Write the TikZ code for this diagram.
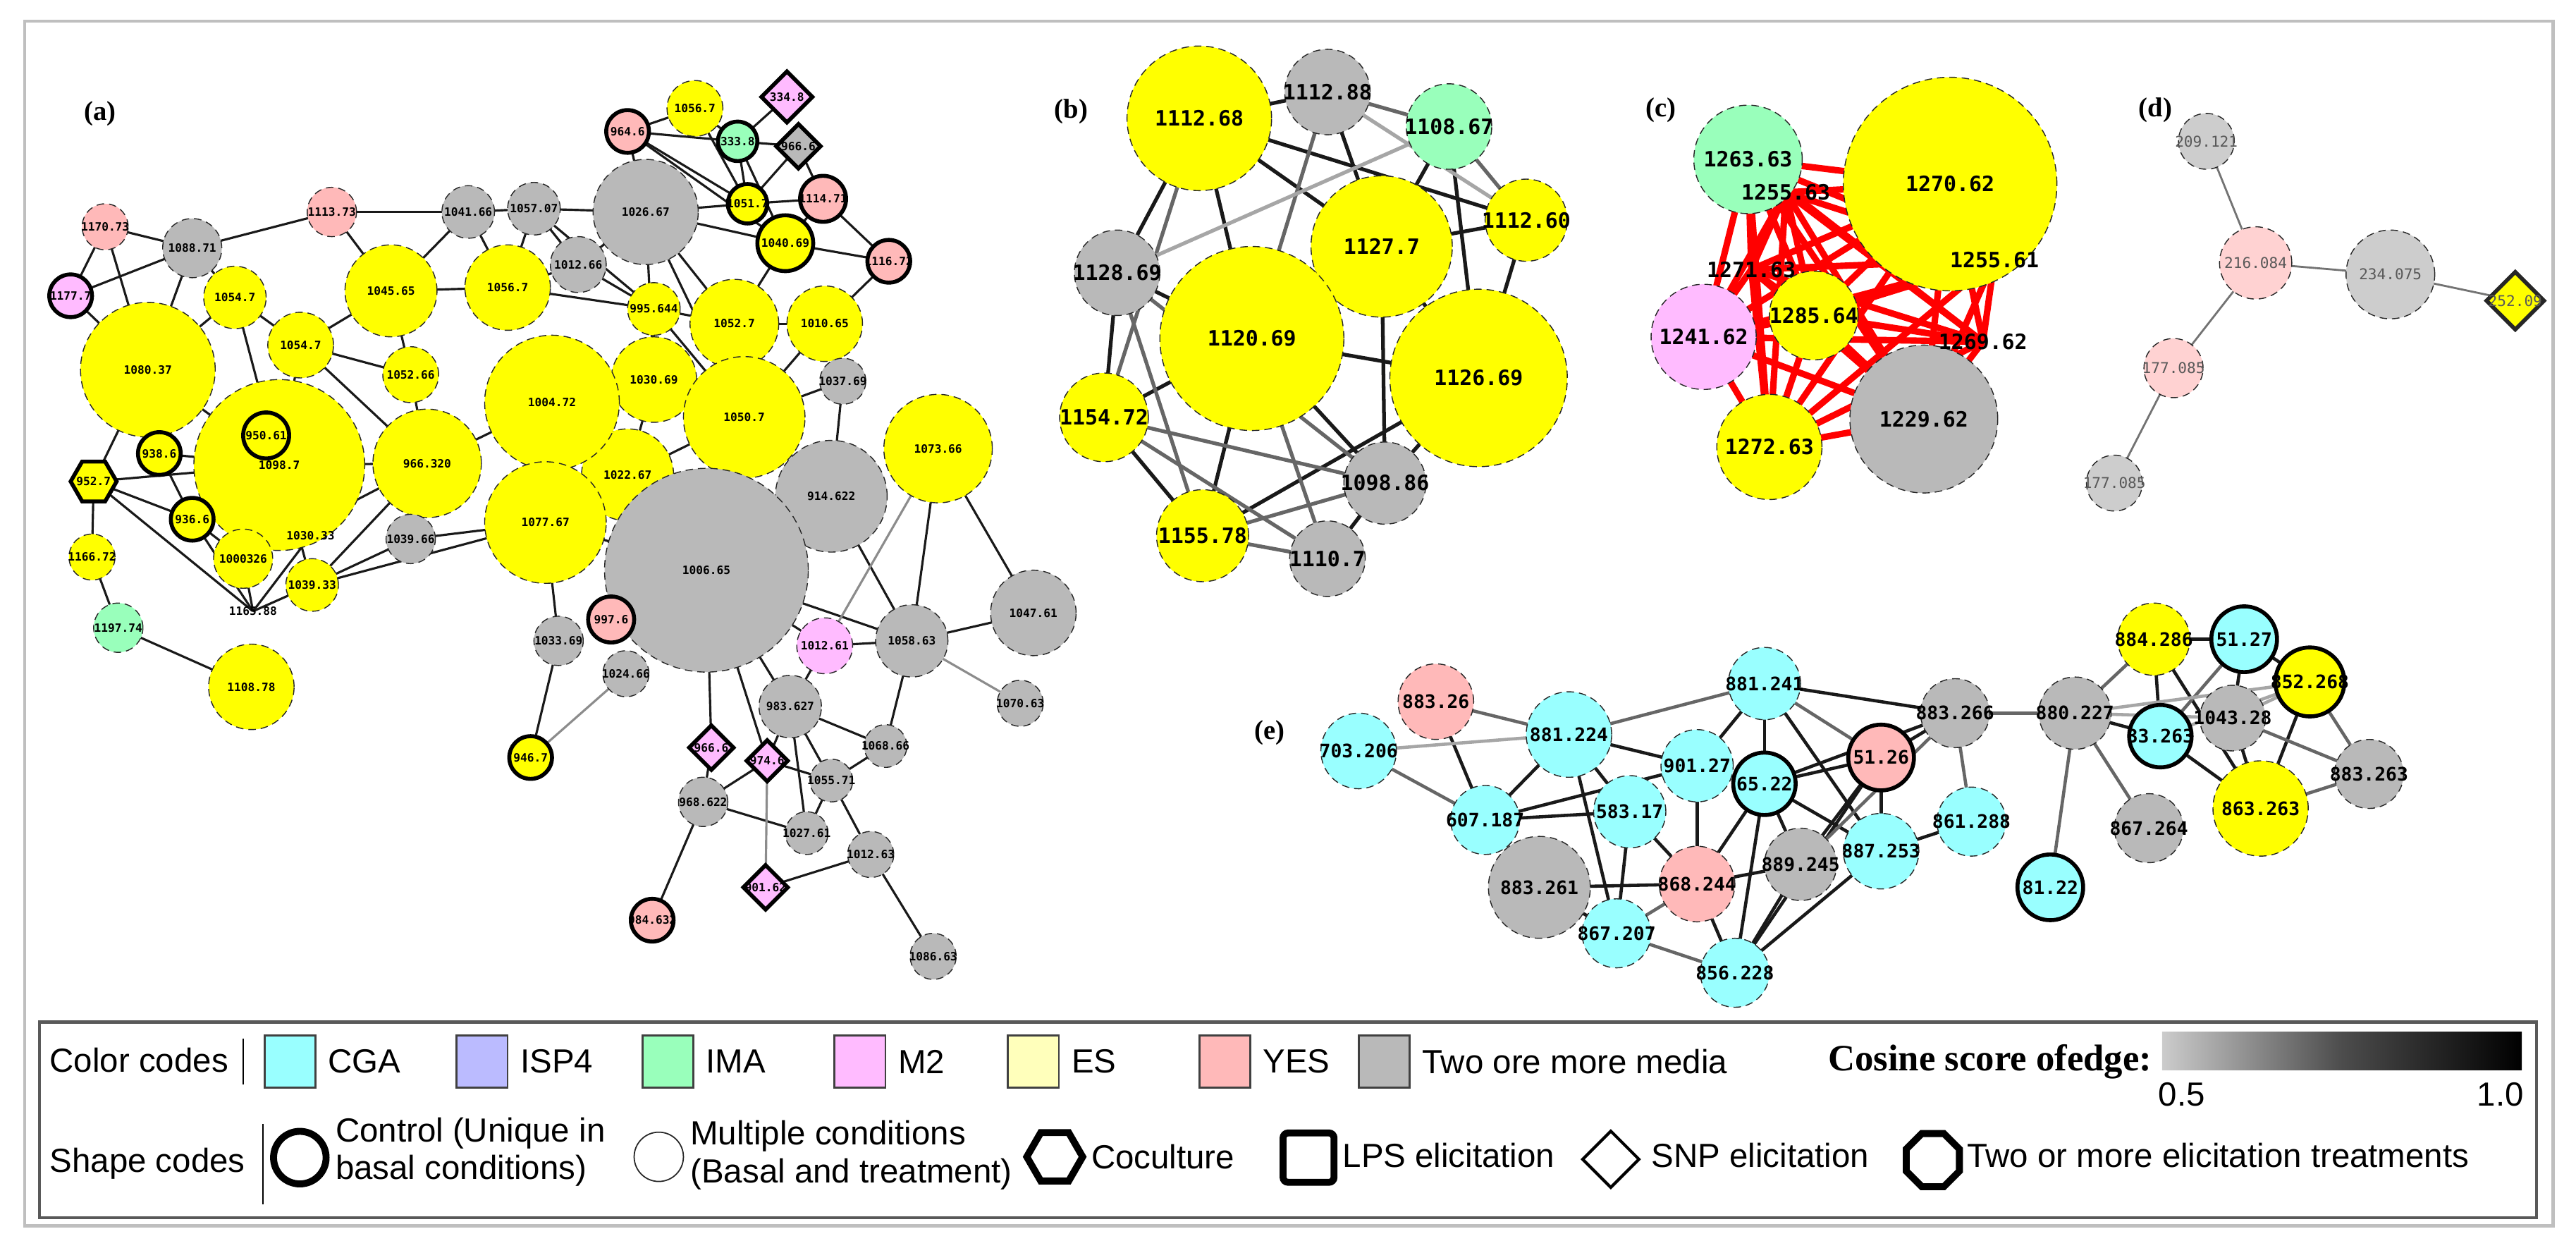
\documentclass[tikz,border=0pt]{standalone}
\usepackage{fontspec}
\setmainfont{Liberation Sans}
\newfontfamily\monofnt{DejaVu Sans Mono}
\newfontfamily\serfnt{Liberation Serif}
\usetikzlibrary{positioning,shapes.geometric,backgrounds}

\definecolor{yel}{HTML}{FFFF00}
\definecolor{gry}{HTML}{B9B9B9}
\definecolor{lgry}{HTML}{CDCDCD}
\definecolor{yes}{HTML}{FFB9B9}
\definecolor{lyes}{HTML}{FFD2D2}
\definecolor{mtwo}{HTML}{FFBBFF}
\definecolor{ima}{HTML}{99FFBB}
\definecolor{cga}{HTML}{99FFFF}
\definecolor{isp}{HTML}{BBBBFF}
\definecolor{esc}{HTML}{FFFFBB}

\tikzset{
  nd/.style={circle, draw=black!85, densely dashed, line width=0.4pt, inner sep=0pt, minimum size=#1*0.466mm},
  ctl/.style={circle, draw=black, solid, line width=1.6pt, inner sep=0pt, minimum size=#1*0.466mm},
  dia/.style={diamond, draw=black, solid, line width=1.6pt, inner sep=0pt, minimum size=#1*0.466mm},
  hexa/.style={regular polygon, regular polygon sides=6, draw=black, line width=1.6pt, inner sep=0pt, minimum size=#1*0.466mm},
  swatch/.style={rectangle, draw=black!75, line width=0.8pt, inner sep=0pt, minimum width=31*0.233mm, minimum height=32*0.233mm},
  lgd/.style={font=\fontsize{13.5}{15.2}\selectfont, inner sep=0pt, anchor=west, align=left},
  plab/.style={font=\serfnt\bfseries\fontsize{11}{11}\selectfont, inner sep=0pt},
  eda/.style={line width=0.9pt, black!90},
  edk/.style={line width=1.5pt, black!90},
  edm/.style={line width=1.5pt, black!60},
  edl/.style={line width=1.5pt, black!35},
  edr/.style={line width=2.6pt, red},
}

\begin{document}
\begin{tikzpicture}[x=0.233mm, y=-0.233mm]
\useasboundingbox (0,0) rectangle (1568,755);

% frames
\draw[black!25, line width=1.2pt] (15,13) rectangle (1554,746);
\draw[black!65, line width=1.2pt] (24,622) rectangle (1544,741);

% panel labels
\node[plab] (la) at (61,69) {(a)};
\node[plab] (lb) at (652,68) {(b)};
\node[plab] (lc) at (1011,67) {(c)};
\node[plab] (ld) at (1312,67) {(d)};
\node[plab] (le) at (773,446) {(e)};

%%%%% panel (a)
\begin{scope}[font=\monofnt\bfseries\fontsize{4.6}{5}\selectfont]
\foreach \n/\x/\y/\r/\c/\t in {
  a1/64/138/14/yes/1170.73, a2/117/151/18/gry/1088.71, a3/202/129/15/yes/1113.73,
  a4/285/129/16/gry/1041.66, a5/325/127/16/gry/1057.07, a6/393/129/32/gry/1026.67,
  a8/143/181/19/yel/1054.7, a9/90/225/41/yel/1080.37, a10/183/210/20/yel/1054.7,
  a11/238/177/28/yel/1045.65, a12/309/175/26/yel/1056.7, a13/352/161/17/gry/1012.66,
  a14/398/188/16/yel/995.644, a15/447/197/27/yel/1052.7, a16/502/197/23/yel/1010.65,
  a17/250/228/17/yel/1052.66, a19/398/231/26/yel/1030.69, a20/453/254/37/yel/1050.7,
  a27/382/289/28/yel/1022.67, a18/336/245/41/yel/1004.72, a28/332/318/37/yel/1077.67,
  a30/506/302/34/gry/914.622, a29/430/347/62/gry/1006.65, a21/170/283/52/yel/1098.7,
  a26/260/282/33/yel/966.320, a31/250/328/15/gry/1039.66, a32/148/340/18/yel/1000326,
  a33/190/356/16/yel/1039.33, a34/56/339/14/yel/1166.72, a36/72/382/15/ima/1197.74,
  a37/153/418/26/yel/1108.78, a38/340/390/15/gry/1033.69, a40/381/410/14/gry/1024.66,
  a44/481/430/19/gry/983.627, a45/506/475/13/gry/1055.71, a46/428/488/15/gry/968.622,
  a47/491/507/13/gry/1027.61, a50/502/393/17/mtwo/1012.61, a51/555/390/22/gry/1058.63,
  a52/629/373/26/gry/1047.61, a53/621/428/14/gry/1070.63, a54/539/454/13/gry/1068.66,
  a55/530/520/14/gry/1012.63, a56/568/582/14/gry/1086.63, a57/571/273/33/yel/1073.66,
  a58/513/232/14/gry/1037.69, a59/423/66/17/yel/1056.7}
  \node[nd=\r, fill=\c] (\n) at (\x,\y) {\makebox[0pt]{\t}};
\foreach \n/\x/\y/\r/\c/\t in {
  a7/43/180/13/mtwo/1177.7, a22/162/265/14/yel/950.61, a23/97/276/13/yel/938.6,
  a25/117/316/13/yel/936.6, a39/372/377/14/yes/997.6, a41/323/461/13/yel/946.7,
  a49/397/560/13/yes/984.632, a60/382/80/13/yes/964.6, a61/449/86/12/ima/333.8,
  a64/455/124/12/yel/1051.7, a65/501/121/14/yes/1114.71, a66/478/148/17/yel/1040.69,
  a67/541/159/13/yes/1116.72}
  \node[ctl=\r, fill=\c] (\n) at (\x,\y) {\makebox[0pt]{\t}};
\foreach \n/\x/\y/\r/\c/\t in {
  a42/433/455/14/mtwo/966.6, a43/467/463/13/mtwo/974.6, a48/466/540/14/mtwo/901.62,
  a62/479/59/16/mtwo/334.8, a63/486/89/14/gry/966.6}
  \node[dia=\r, fill=\c] (\n) at (\x,\y) {\makebox[0pt]{\t}};
\node[hexa=14, fill=yel] (a24) at (57,293) {\makebox[0pt]{952.7}};
\node[inner sep=0pt] (a35) at (154,372) {1165.88};
\node[inner sep=0pt] (a68) at (189,326) {1030.33};
\end{scope}

\begin{scope}[on background layer]
\foreach \p/\q in {a1/a2, a1/a7, a1/a9, a2/a3, a2/a7, a2/a9, a2/a8, a3/a4, a3/a11,
  a4/a5, a4/a11, a4/a12, a5/a6, a5/a12, a5/a13, a5/a14, a6/a60, a6/a64, a6/a66,
  a6/a15, a6/a20, a6/a13, a6/a19, a7/a9, a8/a10, a8/a9, a8/a21, a10/a11, a10/a26,
  a10/a17, a10/a21, a11/a12, a11/a17, a12/a13, a12/a14, a13/a14, a14/a19, a14/a15,
  a14/a20, a15/a16, a15/a66, a15/a20, a16/a67, a16/a58, a16/a20, a19/a18, a19/a20,
  a19/a27, a20/a29, a20/a27, a20/a58, a18/a26, a18/a27, a9/a23, a9/a24, a9/a21,
  a23/a21, a23/a25, a24/a25, a24/a34, a24/a35, a24/a21, a25/a35, a25/a32, a21/a32,
  a21/a33, a21/a26, a26/a33, a26/a31, a26/a17, a26/a32, a31/a28, a31/a33, a33/a35,
  a32/a35, a33/a28, a34/a36, a36/a37, a28/a29, a28/a38, a27/a29, a29/a39, a29/a50,
  a29/a51, a29/a44, a29/a42, a29/a43, a30/a51, a30/a58, a57/a51, a57/a52, a51/a52,
  a51/a50, a51/a54, a50/a44, a44/a54, a44/a45, a44/a43, a44/a47, a42/a46, a43/a46,
  a43/a45, a46/a49, a46/a47, a47/a45, a45/a54, a45/a55, a55/a48, a55/a56, a38/a41,
  a59/a60, a59/a61, a60/a61, a60/a64, a60/a66, a61/a62, a61/a63, a61/a64, a61/a66,
  a63/a64, a63/a65, a64/a65, a65/a66, a65/a67, a66/a67, a59/a64, a68/a35}
  \draw[eda] (\p.center) -- (\q.center);
\foreach \p/\q in {a57/a50, a51/a53, a43/a48, a40/a41}
  \draw[eda, black!45] (\p.center) -- (\q.center);
\end{scope}

%%%%% panel (b)
\begin{scope}[font=\monofnt\bfseries\fontsize{8.5}{9}\selectfont]
\foreach \n/\x/\y/\r/\c/\t in {
  b1/730/72/44/yel/1112.68, b2/808/56/26/gry/1112.88, b3/882/77/26/ima/1108.67,
  b4/929/134/25/yel/1112.60, b5/680/166/26/gry/1128.69, b6/841/150/43/yel/1127.7,
  b7/762/206/56/yel/1120.69, b8/900/230/54/yel/1126.69, b9/672/254/27/yel/1154.72,
  b10/843/294/25/gry/1098.86, b11/732/326/28/yel/1155.78, b12/808/340/23/gry/1110.7}
  \node[nd=\r, fill=\c] (\n) at (\x,\y) {\makebox[0pt]{\t}};
\end{scope}

\begin{scope}[on background layer]
\foreach \p/\q in {b1/b2, b1/b5, b1/b6, b1/b7, b2/b6, b3/b6, b3/b8, b4/b6, b4/b8,
  b5/b7, b5/b9, b6/b7, b6/b8, b7/b8, b7/b9, b7/b10, b7/b11, b8/b10, b8/b11, b9/b11,
  b10/b12, b1/b4, b6/b10}
  \draw[edk] (\p.center) -- (\q.center);
\foreach \p/\q in {b1/b9, b2/b3, b3/b4, b5/b11, b5/b10, b9/b10, b9/b12, b10/b11,
  b11/b12, b7/b12, b2/b7}
  \draw[edm] (\p.center) -- (\q.center);
\foreach \p/\q in {b3/b5, b2/b4}
  \draw[edl] (\p.center) -- (\q.center);
\end{scope}

%%%%% panel (c)
\begin{scope}[font=\monofnt\bfseries\fontsize{8.5}{9}\selectfont]
\foreach \n/\x/\y/\r/\c/\t in {
  c1/1064/97/33/ima/1263.63, c2/1187/112/65/yel/1270.62, c3/1037/205/32/mtwo/1241.62,
  c4/1104/192/27/yel/1285.64, c5/1077/272/32/yel/1272.63, c6/1171/255/45/gry/1229.62}
  \node[nd=\r, fill=\c] (\n) at (\x,\y) {\makebox[0pt]{\t}};
\node[inner sep=0pt] (h1) at (1087,117) {1255.63};
\node[inner sep=0pt] (h2) at (1214,158) {1255.61};
\node[inner sep=0pt] (h3) at (1066,164) {1271.63};
\node[inner sep=0pt] (h4) at (1207,208) {1269.62};
\end{scope}

\begin{scope}[on background layer]
\foreach \p [count=\i] in {c1,c2,c3,c4,c5,c6,h1,h2,h3,h4}
  \foreach \q [count=\j] in {c1,c2,c3,c4,c5,c6,h1,h2,h3,h4}
    {\ifnum\j>\i \draw[edr] (\p.center) -- (\q.center); \fi}
\end{scope}

%%%%% panel (d)
\begin{scope}[font=\monofnt\fontsize{6}{6}\selectfont, text=black!65]
\foreach \n/\x/\y/\r/\c/\t in {
  d1/1343/86/17/lgry/209.121, d2/1373/160/22/lyes/216.084, d3/1455/167/27/lgry/234.075,
  d5/1323/224/18/lyes/177.085, d6/1287/294/17/lgry/177.085}
  \node[nd=\r, fill=\c] (\n) at (\x,\y) {\makebox[0pt]{\t}};
\node[dia=18, fill=yel, draw=black!85] (d4) at (1531,183) {\makebox[0pt]{252.09}};
\end{scope}

\begin{scope}[on background layer]
\foreach \p/\q in {d1/d2, d2/d3, d3/d4, d2/d5, d5/d6}
  \draw[line width=0.8pt, black!55] (\p.center) -- (\q.center);
\end{scope}

%%%%% panel (e)
\begin{scope}[font=\monofnt\bfseries\fontsize{7.5}{8}\selectfont]
\foreach \n/\x/\y/\r/\c/\t in {
  e1/874/427/23/yes/883.26, e2/827/457/23/cga/703.206, e3/955/447/26/cga/881.224,
  e4/1074/416/22/cga/881.241, e5/1033/466/22/cga/901.27, e8/904/499/21/cga/607.187,
  e9/992/494/22/cga/583.17, e10/937/540/31/gry/883.261, e11/1033/538/23/yes/868.244,
  e12/1096/526/22/gry/889.245, e13/1145/518/23/cga/887.253, e14/984/568/21/cga/867.207,
  e15/1056/592/21/cga/856.228, e16/1200/500/21/cga/861.288, e17/1190/434/21/gry/883.266,
  e18/1263/434/22/gry/880.227, e19/1311/389/22/yel/884.286, e23/1359/437/20/gry/1043.28,
  e24/1442/471/21/gry/883.263, e25/1376/492/29/yel/863.263, e26/1308/504/21/gry/867.264}
  \node[nd=\r, fill=\c] (\n) at (\x,\y) {\makebox[0pt]{\t}};
\foreach \n/\x/\y/\r/\c/\t in {
  e6/1074/477/19/cga/65.22, e7/1145/461/20/yes/51.26, e20/1366/389/20/cga/51.27,
  e21/1406/415/21/yel/852.268, e22/1315/448/19/cga/33.263, e27/1248/540/20/cga/81.22}
  \node[ctl=\r, fill=\c] (\n) at (\x,\y) {\makebox[0pt]{\t}};
\end{scope}

\begin{scope}[on background layer]
\foreach \p/\q in {e1/e8, e3/e8, e3/e9, e3/e5, e4/e5, e4/e6, e4/e17, e5/e11, e6/e7,
  e6/e11, e6/e12, e6/e13, e6/e15, e7/e13, e7/e12, e7/e15, e8/e9, e9/e14, e9/e11,
  e10/e11, e10/e14, e11/e12, e11/e15, e12/e15, e13/e16, e13/e15, e3/e14, e8/e5,
  e18/e22, e19/e20, e19/e22, e19/e25, e20/e21, e20/e23, e21/e25, e22/e25, e23/e25,
  e4/e13, e6/e17, e7/e17}
  \draw[edk, line width=1.3pt] (\p.center) -- (\q.center);
\foreach \p/\q in {e1/e3, e2/e8, e3/e4, e17/e16, e17/e18, e18/e19, e18/e26, e18/e27,
  e21/e24, e23/e24, e25/e24, e4/e7, e20/e22, e14/e15, e11/e14, e12/e17}
  \draw[edm, line width=1.3pt] (\p.center) -- (\q.center);
\foreach \p/\q in {e2/e3, e18/e23, e21/e23, e22/e21, e18/e21, e5/e6}
  \draw[edl, line width=1.3pt] (\p.center) -- (\q.center);
\end{scope}

%%%%% legend
\node[lgd] (colcodes) at (30,645) {Color codes};
\draw[line width=0.6pt] (148,632) -- (148,660);
\node[swatch, fill=cga] (swcga) at (176.5,646) {};
\node[lgd, right=1.6mm of swcga] (tcga) {CGA};
\node[swatch, fill=isp] (swisp) at (293.5,646) {};
\node[lgd, right=1.6mm of swisp] (tisp) {ISP4};
\node[swatch, fill=ima] (swima) at (406.5,646) {};
\node[lgd, right=1.6mm of swima] (tima) {IMA};
\node[swatch, fill=mtwo] (swmtwo) at (523.5,646) {};
\node[lgd, right=1.6mm of swmtwo] (tmtwo) {M2};
\node[swatch, fill=esc] (swesc) at (629,646) {};
\node[lgd, right=1.6mm of swesc] (tesc) {ES};
\node[swatch, fill=yes] (swyes) at (745.5,646) {};
\node[lgd, right=1.6mm of swyes] (tyes) {YES};
\node[swatch, fill=gry] (swgry) at (842.5,646) {};
\node[lgd, right=1.6mm of swgry] (tgry) {Two ore more media};

\node[inner sep=0pt, anchor=east, font=\serfnt\bfseries\fontsize{15}{15}\selectfont] (cosine) at (1310,646) {Cosine score ofedge:};
\shade[left color=black!20, right color=black, middle color=black!70] (1316,628) rectangle (1535,651);
\node[lgd, anchor=center] (lo) at (1328,666) {0.5};
\node[lgd, anchor=center] (hi) at (1522,666) {1.0};

\node[lgd] (shcodes) at (30,708) {Shape codes};
\draw[line width=0.6pt] (160,684) -- (160,733);
\node[ctl=16, line width=2.8pt] (shctl) at (182.5,704.5) {};
\node[lgd] (tctl) at (204,701) {Control (Unique in\\basal conditions)};
\node[nd=15, solid, line width=0.5pt] (shmul) at (401,704) {};
\node[lgd] (tmul) at (420,703) {Multiple conditions\\(Basal and treatment)};
\node[hexa=17, line width=2.8pt] (shcoc) at (642,704) {};
\node[lgd] (tcoc) at (664,704) {Coculture};
\node[rectangle, rounded corners=2pt, draw, line width=2.8pt, minimum width=31*0.233mm, minimum height=30*0.233mm] (shlps) at (796.5,704.5) {};
\node[lgd] (tlps) at (817,703) {LPS elicitation};
\node[dia=17.5, line width=1.2pt] (shsnp) at (980.5,705.5) {};
\node[lgd] (tsnp) at (1005,703) {SNP elicitation};
\node[regular polygon, regular polygon sides=8, draw, line width=2.8pt, minimum size=35*0.233mm] (shtwo) at (1176.5,706) {};
\node[lgd] (ttwo) at (1197,703) {Two or more elicitation treatments};
\end{tikzpicture}
\end{document}
